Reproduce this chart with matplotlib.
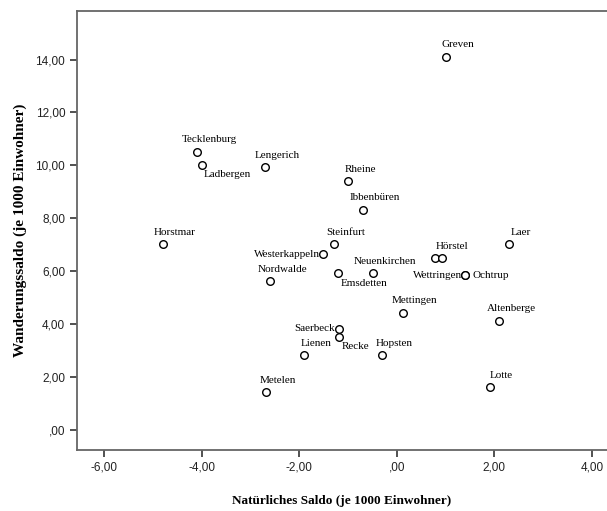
import matplotlib
matplotlib.use('Agg')
import matplotlib.pyplot as plt
from matplotlib.ticker import FuncFormatter

# --- Daten (Kreis Steinfurt) ---
orte = ['Greven', 'Tecklenburg', 'Ladbergen', 'Lengerich', 'Rheine', 'Ibbenbüren',
        'Horstmar', 'Steinfurt', 'Westerkappeln', 'Nordwalde', 'Emsdetten',
        'Neuenkirchen', 'Hörstel', '', 'Wettringen', 'Ochtrup', 'Laer', 'Mettingen',
        'Altenberge', 'Saerbeck', 'Recke', 'Lienen', 'Hopsten', 'Metelen', 'Lotte']
natuerlich = [1.00, -4.10, -4.00, -2.70, -1.00, -0.70,
              -4.80, -1.30, -1.51, -2.60, -1.20,
              -0.50, 0.79, 0.92, 1.40, 1.40, 2.30, 0.12,
              2.10, -1.18, -1.18, -1.90, -0.30, -2.69, 1.90]
wanderung = [14.11, 10.52, 10.00, 9.92, 9.40, 8.31,
             7.02, 7.02, 6.63, 5.62, 5.91,
             5.91, 6.51, 6.51, 5.84, 5.84, 7.02, 4.42,
             4.11, 3.82, 3.51, 2.81, 2.81, 1.42, 1.61]

# Beschriftungs-Versatz in Pixeln (Standard: oben rechts)
versatz = {
    'Ladbergen': (25, -9), 'Westerkappeln': (-36, 0), 'Emsdetten': (26, -10),
    'Hörstel': (17, 11), 'Wettringen': (-28, 0), 'Ochtrup': (26, 0),
    'Saerbeck': (-25, 0), 'Recke': (16, -10),
}

plt.rcParams['font.family'] = 'serif'
plt.rcParams['font.serif'] = ['Liberation Serif', 'DejaVu Serif']

fig = plt.figure(figsize=(6.07, 5.11), dpi=100)
ax = fig.add_axes([0.127, 0.119, 0.873, 0.8595])

ax.scatter(natuerlich, wanderung, s=30, facecolors='white', edgecolors='black',
           linewidths=1.0, zorder=3)

for name, x, y in zip(orte, natuerlich, wanderung):
    if not name:
        continue
    dx, dy = versatz.get(name, (12, 12))
    ax.annotate(name, (x, y), xytext=(dx, dy), textcoords='offset pixels',
                ha='center', va='center', fontsize=8)

ax.set_xlim(-6.56, 4.31)
ax.set_ylim(-0.78, 15.84)
ax.set_xticks([-6, -4, -2, 0, 2, 4])
ax.set_yticks([0, 2, 4, 6, 8, 10, 12, 14])


def komma(v, p):
    s = ('%.2f' % v).replace('.', ',')
    if s in ('0,00', '-0,00'):
        s = ',00'
    return s


ax.xaxis.set_major_formatter(FuncFormatter(komma))
ax.yaxis.set_major_formatter(FuncFormatter(komma))

for lab in ax.get_xticklabels() + ax.get_yticklabels():
    lab.set_family('Liberation Sans')
    lab.set_fontsize(8.5)
    lab.set_color('#222222')

ax.spines['right'].set_visible(False)
for s in ['left', 'bottom', 'top']:
    ax.spines[s].set_color('#666666')
    ax.spines[s].set_linewidth(1.3)
ax.tick_params(axis='both', direction='out', length=5, width=1.2, color='#333333')

ax.set_xlabel('Natürliches Saldo (je 1000 Einwohner)', fontsize=9.5, fontweight='bold', labelpad=15)
ax.set_ylabel('Wanderungssaldo (je 1000 Einwohner)', fontsize=11, fontweight='bold', labelpad=6)

fig.savefig('out.png', dpi=100)
